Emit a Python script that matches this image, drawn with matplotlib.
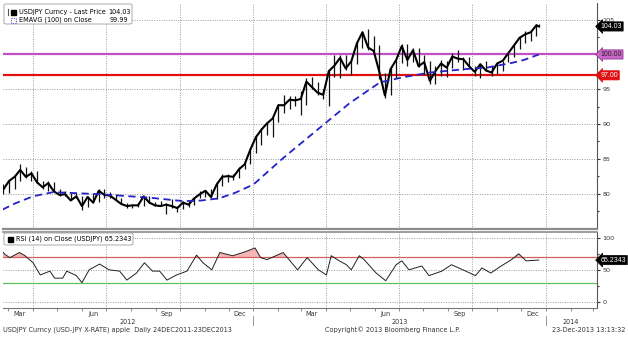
import matplotlib
matplotlib.use("Agg")
import matplotlib.pyplot as plt
import matplotlib.dates as mdates
import matplotlib.transforms as mtrans
from matplotlib.patches import FancyBboxPatch
import pandas as pd
import numpy as np

# weekly USDJPY bars, one per Friday from 24 Feb 2012, last one 23 Dec 2013
week_low = [79.9, 80.1, 80.6, 81.8, 82.2, 81.8, 81.5, 80.6, 80.3, 80.2,
            79.6, 79.6, 79.0, 79.3, 77.7, 78.0, 78.6, 78.8, 79.3, 79.3,
            79.1, 78.5, 77.9, 77.9, 78.1, 78.2, 78.6, 78.2, 78.2, 77.1,
            77.9, 77.4, 77.8, 78.0, 78.3, 79.3, 79.5, 79.4, 79.2, 81.1,
            81.7, 81.9, 82.3, 83.5, 84.2,
            85.9, 87.0, 88.4, 88.1, 90.3, 91.6, 92.2, 92.6, 91.3, 92.8,
            95.0, 94.2, 93.6, 92.6, 96.8, 96.6, 97.7, 97.1, 98.6, 100.9,
            100.6, 100.0, 96.5, 93.8, 94.1, 96.6, 98.7, 98.3, 98.9, 98.2,
            97.2, 95.8, 95.8, 96.9, 96.8, 98.1, 98.9, 97.8, 98.3, 96.9,
            96.6, 97.6, 96.9, 97.2, 97.6, 98.9, 99.6, 100.8, 101.6, 101.9,
            102.6, 103.9]
week_high = [81.3, 81.9, 82.6, 84.2, 83.8, 83.3, 83.3, 81.8, 81.8, 81.6,
             80.6, 80.3, 80.1, 80.1, 79.7, 79.7, 80.1, 80.6, 80.6, 80.2,
             79.9, 79.4, 78.7, 78.5, 78.7, 79.6, 79.6, 78.8, 78.9, 78.6,
             79.2, 78.2, 78.9, 78.9, 79.4, 80.4, 80.5, 80.6, 81.6, 82.8,
             82.8, 82.8, 83.8, 84.6, 86.6,
             88.4, 89.4, 90.2, 91.0, 92.9, 94.1, 94.0, 94.0, 94.8, 96.6,
             96.7, 96.0, 95.0, 97.8, 99.9, 99.9, 99.9, 99.0, 101.9, 103.3,
             103.7, 102.6, 101.4, 97.3, 98.2, 99.2, 101.5, 101.5, 101.0, 100.9,
             99.9, 99.1, 98.3, 99.2, 99.0, 100.2, 100.6, 99.7, 99.6, 98.3,
             98.6, 99.0, 98.4, 98.8, 99.1, 100.2, 101.4, 102.5, 103.4, 103.4,
             104.4, 104.4]
week_close = [80.6, 81.8, 82.4, 83.4, 82.4, 82.9, 81.6, 80.9, 81.5, 80.3,
              79.8, 79.9, 79.0, 79.6, 78.2, 79.5, 78.7, 80.4, 79.8, 79.7,
              79.1, 78.5, 78.2, 78.3, 78.3, 79.6, 78.7, 78.3, 78.2, 78.4,
              78.2, 77.9, 78.7, 78.4, 79.3, 79.9, 80.4, 79.5, 81.3, 82.4,
              82.5, 82.4, 83.5, 84.2, 86.3,
              88.1, 89.2, 90.1, 90.8, 92.7, 92.7, 93.5, 93.4, 93.6, 96.1,
              95.3, 94.5, 94.2, 97.6, 98.4, 99.5, 98.0, 99.0, 101.6, 103.2,
              101.0, 100.5, 97.5, 94.1, 97.9, 99.2, 101.2, 99.2, 100.6, 98.3,
              98.9, 96.2, 97.6, 98.7, 98.1, 99.7, 99.4, 99.3, 98.3, 97.5,
              98.6, 97.7, 97.4, 98.7, 99.1, 100.2, 101.3, 102.4, 102.9, 103.2,
              104.2, 104.03]

# 100-day EMA on close
ema_dates = ["2012-02-23", "2012-03-10", "2012-04-01", "2012-04-26", "2012-06-24",
             "2012-08-25", "2012-10-06", "2012-10-28", "2012-11-19", "2012-12-09",
             "2013-01-01", "2013-02-07", "2013-03-21", "2013-05-01", "2013-06-08",
             "2013-07-06", "2013-08-09", "2013-09-23", "2013-10-19", "2013-11-20",
             "2013-12-04", "2013-12-23"]
ema_vals = [77.7, 78.6, 79.6, 80.2, 79.9,
            79.4, 78.9, 79.0, 79.3, 80.1,
            81.3, 85.1, 89.1, 93.0, 96.0,
            96.7, 97.4, 97.9, 98.1, 98.8,
            99.2, 99.99]

# RSI(14) on close
rsi_dates = ["2012-02-21", "2012-02-26", "2012-03-03", "2012-03-15", "2012-03-22",
             "2012-04-01", "2012-04-10", "2012-04-22", "2012-04-28", "2012-05-08",
             "2012-05-13", "2012-05-25", "2012-06-01", "2012-06-10", "2012-06-23",
             "2012-07-05", "2012-07-18", "2012-07-27", "2012-08-08", "2012-08-18",
             "2012-08-28", "2012-09-06", "2012-09-15", "2012-09-27", "2012-10-10",
             "2012-10-22", "2012-10-30", "2012-11-10", "2012-11-20", "2012-12-06",
             "2012-12-19", "2013-01-03", "2013-01-10", "2013-01-18", "2013-02-07",
             "2013-02-25", "2013-03-09", "2013-03-23", "2013-04-02", "2013-04-08",
             "2013-04-18", "2013-04-27", "2013-05-03", "2013-05-13", "2013-05-19",
             "2013-06-03", "2013-06-15", "2013-06-28", "2013-07-05", "2013-07-14",
             "2013-07-30", "2013-08-08", "2013-08-24", "2013-09-05", "2013-09-14",
             "2013-10-05", "2013-10-13", "2013-10-24", "2013-11-06", "2013-11-19",
             "2013-11-28", "2013-12-07", "2013-12-23"]
rsi_vals = [81, 74, 69, 77, 72,
            61, 42, 48, 37, 37,
            48, 41, 30, 50, 59,
            50, 48, 34, 45, 61,
            48, 48, 34, 42, 48,
            73, 61, 50, 77, 72,
            77, 84, 69, 66, 77,
            50, 69, 50, 42, 72,
            64, 58, 50, 72, 66,
            45, 33, 58, 64, 50,
            56, 41, 48, 58, 53,
            41, 53, 45, 56, 66,
            75, 64, 65.2343]

last_price = 104.03
last_ema = 99.99
last_rsi = 65.2343
level_hi = 100.00
level_lo = 97.00

week_dates = list(pd.date_range("2012-02-24", "2013-12-20", freq="W-FRI")) + [pd.Timestamp("2013-12-23")]
wd = mdates.date2num(week_dates)
ed = mdates.date2num(pd.to_datetime(ema_dates))
rd = mdates.date2num(pd.to_datetime(rsi_dates))
rv = np.array(rsi_vals)

W, H = 628, 337
plt.rcParams["font.family"] = "DejaVu Sans"
fig = plt.figure(figsize=(W / 100, H / 100), dpi=100)

def fx(px):
    return px / W

def fy(py):
    return 1 - py / H

ax = fig.add_axes([fx(3), fy(229), fx(594), 226 / H])
ax2 = fig.add_axes([fx(3), fy(308), fx(594), 76 / H], sharex=ax)

xmin = mdates.date2num(pd.Timestamp("2012-02-23 12:00"))
xmax = mdates.date2num(pd.Timestamp("2014-03-05 14:00"))
ax.set_xlim(xmin, xmax)
ax.set_ylim(74.9, 107.4)
ax2.set_ylim(-9.5, 109)

grid_kw = dict(color="#9a9a9a", linestyle=(0, (1, 1.5)), linewidth=0.7)
quarters = mdates.date2num(pd.to_datetime(["2012-04-01", "2012-07-01", "2012-10-01", "2013-01-01",
                                            "2013-04-01", "2013-07-01", "2013-10-01", "2014-01-01"]))
for a in (ax, ax2):
    for q in quarters:
        a.axvline(q, zorder=0, **grid_kw)
for v in (75, 80, 85, 90, 95, 105):
    ax.axhline(v, zorder=0, **grid_kw)
for v in (0, 50, 100):
    ax2.axhline(v, zorder=0, **grid_kw)

# price bars and close path
ax.vlines(wd, week_low, week_high, color="#111111", linewidth=0.9, zorder=3)
ax.plot(wd, week_close, color="black", linewidth=1.5, zorder=3)
ax.plot(ed, ema_vals, color="#2323c8", linewidth=1.3, linestyle=(0, (4, 2.5)), zorder=4)
ax.axhline(level_hi, color="#c04fc8", linewidth=1.6, zorder=2)
ax.axhline(level_lo, color="#e01010", linewidth=1.6, zorder=2)

# RSI panel
ax2.axhline(70, color="#d06060", linewidth=0.9, zorder=2)
ax2.axhline(30, color="#60c060", linewidth=0.9, zorder=2)
ax2.fill_between(rd, rv, 70, where=rv > 70, interpolate=True, color="#f6b6b6", zorder=1, linewidth=0)
ax2.plot(rd, rv, color="#222222", linewidth=0.7, zorder=3)

# axes styling
for a in (ax, ax2):
    a.set_facecolor("white")
    a.spines["left"].set_visible(False)
    a.spines["right"].set_color("#555555")
    a.spines["right"].set_linewidth(0.8)
    a.yaxis.tick_right()
    a.tick_params(axis="y", which="both", direction="out", length=2.5, width=0.8,
                  colors="#333333", labelsize=4.6, pad=1.5)
    a.tick_params(axis="x", which="both", labelbottom=False, length=0)
ax.spines["top"].set_visible(False)
ax.spines["bottom"].set_color("#8c8c8c")
ax.spines["bottom"].set_linewidth(1.6)
ax2.spines["top"].set_color("#8c8c8c")
ax2.spines["top"].set_linewidth(1.2)
ax2.spines["bottom"].set_color("#777777")
ax2.spines["bottom"].set_linewidth(0.8)

ax.set_yticks([80, 85, 90, 95, 100, 105])
ax.set_yticklabels(["80", "85", "90", "95", "", "105"])
ax.set_yticks([77.5, 82.5, 87.5, 92.5, 97.5, 102.5], minor=True)
ax.tick_params(axis="y", which="minor", length=1.5)
ax2.set_yticks([0, 50, 100])
ax2.set_yticks([25, 75], minor=True)
ax2.tick_params(axis="y", which="minor", length=1.5)

months = mdates.date2num(pd.date_range("2012-03-01", "2014-03-01", freq="MS"))
ax2.xaxis.set_major_locator(matplotlib.ticker.FixedLocator(months))
ax2.tick_params(axis="x", which="major", length=2, width=0.6, colors="#777777", direction="out")

# value tags on the right
def tag(a, y, text, fc, tc, ec=None):
    tr = mtrans.blended_transform_factory(a.transAxes, a.transData)
    a.text(1.006, y, text, transform=tr, ha="left", va="center", fontsize=5.0, color=tc,
           family="Liberation Sans",
           bbox=dict(boxstyle="larrow,pad=0.16", fc=fc, ec=ec or fc, lw=0.5), zorder=10,
           clip_on=False)

tag(ax, last_price, f"{last_price:.2f}", "black", "white")
tag(ax, level_hi, f"{level_hi:.2f}", "#c866c8", "#222222", "#8a308a")
tag(ax, level_lo, f"{level_lo:.2f}", "#e01010", "white")
tag(ax2, last_rsi, f"{last_rsi:.4f}", "black", "white")

# legends
fs = 4.7
box = FancyBboxPatch((fx(4), fy(24)), fx(128), 20 / H, boxstyle="round,pad=0,rounding_size=0.004",
                     transform=fig.transFigure, fc="white", ec="#aaaaaa", lw=0.7, zorder=20)
fig.patches.append(box)
fig.add_artist(plt.Line2D([fx(8), fx(8)], [fy(9), fy(15)], color="#555555", lw=0.8, zorder=21))
fig.patches.append(plt.Rectangle((fx(11), fy(14.5)), 5 / W, 5 / H, transform=fig.transFigure,
                                 fc="black", ec="black", zorder=21))
fig.patches.append(plt.Rectangle((fx(11), fy(22.5)), 5 / W, 5 / H, transform=fig.transFigure,
                                 fc="white", ec="#3333cc", lw=0.6, ls=(0, (1, 1)), zorder=21))
fig.text(fx(19), fy(12), "USDJPY Curncy - Last Price", fontsize=fs, va="center", zorder=22)
fig.text(fx(108), fy(12), f"{last_price:.2f}", fontsize=fs, va="center", zorder=22)
fig.text(fx(19), fy(20), "EMAVG (100) on Close", fontsize=fs, va="center", zorder=22)
fig.text(fx(110), fy(20), f"{last_ema:.2f}", fontsize=fs, va="center", zorder=22)

box2 = FancyBboxPatch((fx(4), fy(245)), fx(129), 12 / H, boxstyle="round,pad=0,rounding_size=0.004",
                      transform=fig.transFigure, fc="white", ec="#aaaaaa", lw=0.7, zorder=20)
fig.patches.append(box2)
fig.patches.append(plt.Rectangle((fx(8), fy(241.5)), 5 / W, 5 / H, transform=fig.transFigure,
                                 fc="black", ec="black", zorder=21))
fig.text(fx(16), fy(239), f"RSI (14) on Close (USDJPY) {last_rsi:.4f}", fontsize=fs, va="center", zorder=22)

# date axis labels
mid_months = pd.to_datetime(["2012-03-15", "2012-06-15", "2012-09-15", "2012-12-15",
                             "2013-03-15", "2013-06-15", "2013-09-15", "2013-12-15"])
xt = mtrans.blended_transform_factory(ax2.transData, fig.transFigure)
for d in mid_months:
    ax2.text(mdates.date2num(d), fy(314), d.strftime("%b"), transform=xt, ha="center", va="center",
             fontsize=fs, color="#333333", clip_on=False)
years = [("2012", 128), ("2013", 400), ("2014", 571)]
for t, px in years:
    fig.text(fx(px), fy(322), t, ha="center", va="center", fontsize=fs, color="#333333")
for px in (253, 546):
    fig.add_artist(plt.Line2D([fx(px), fx(px)], [fy(316), fy(325)], color="#888888", lw=0.6))

fig.text(fx(3), fy(330), "USDJPY Curncy (USD-JPY X-RATE) apple  Daily 24DEC2011-23DEC2013",
         fontsize=fs, va="center", color="#333333")
fig.text(fx(325), fy(330), "Copyright\u00a9 2013 Bloomberg Finance L.P.", fontsize=fs,
         va="center", color="#333333")
fig.text(fx(625), fy(330), "23-Dec-2013 13:13:32", fontsize=fs, va="center", ha="right",
         color="#333333")

fig.savefig("out.png", dpi=100)
